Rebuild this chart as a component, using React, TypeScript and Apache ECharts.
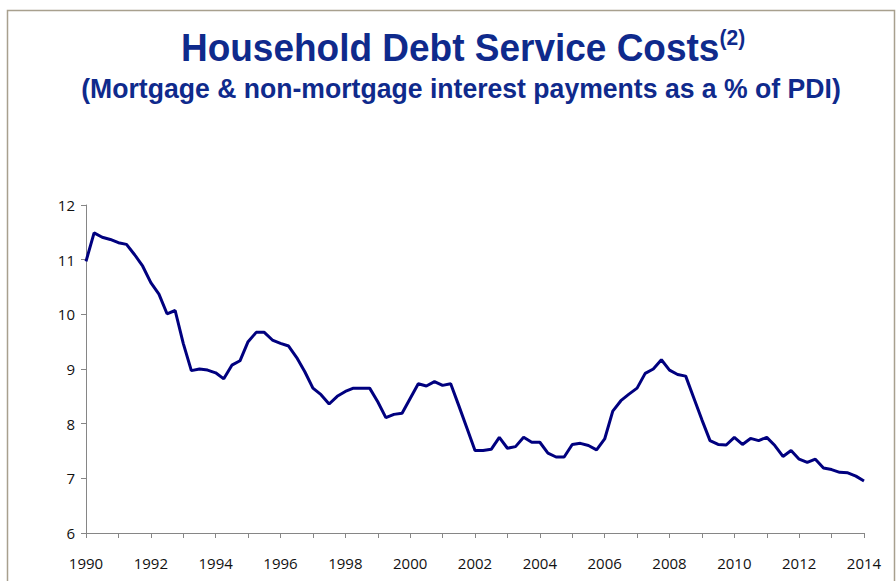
import React, { useEffect, useRef } from "react";
import * as echarts from "echarts";

const startYear = 1990;
const quarterValues: number[] = [
  10.97, 11.49, 11.41, 11.37, 11.31, 11.28, 11.09, 10.88, 10.58, 10.37,
  10.01, 10.07, 9.47, 8.97, 9.0, 8.98, 8.93, 8.82, 9.07, 9.15,
  9.5, 9.67, 9.67, 9.53, 9.47, 9.42, 9.21, 8.95, 8.65, 8.53,
  8.36, 8.5, 8.59, 8.65, 8.65, 8.65, 8.4, 8.11, 8.17, 8.19,
  8.46, 8.73, 8.69, 8.77, 8.7, 8.73, 8.33, 7.92, 7.51, 7.51,
  7.53, 7.75, 7.55, 7.58, 7.75, 7.66, 7.66, 7.46, 7.39, 7.39,
  7.62, 7.64, 7.6, 7.52, 7.72, 8.23, 8.42, 8.54, 8.65, 8.92,
  9.0, 9.17, 8.98, 8.9, 8.87, 8.47, 8.07, 7.69, 7.62, 7.61,
  7.75, 7.62, 7.73, 7.69, 7.75, 7.6, 7.4, 7.51, 7.35, 7.29,
  7.35, 7.19, 7.16, 7.11, 7.1, 7.04, 6.95,
];
const xLabelYears: number[] = [1990, 1992, 1994, 1996, 1998, 2000, 2002, 2004, 2006, 2008, 2010, 2012, 2014];
const titleText = "Household Debt Service Costs";
const titleNote = "(2)";
const subtitleText = "(Mortgage & non-mortgage interest payments as a % of PDI)";

export default function App() {
  const ref = useRef<HTMLDivElement>(null);
  useEffect(() => {
    if (!ref.current) return;
    const chart = echarts.init(ref.current, null, { renderer: "svg" });
    const seriesData = quarterValues.map((v, i) => [startYear + i / 4, v]);
    const navy = "#0f2a8c";
    chart.setOption({
      animation: false,
      backgroundColor: "#ffffff",
      graphic: [
        {
          type: "rect",
          shape: { x: 7.5, y: 10.5, width: 887, height: 620 },
          style: { fill: "none", stroke: "#a8a08e", lineWidth: 1.5 },
          silent: true,
        },
        {
          type: "text",
          x: 463,
          y: 47,
          scaleY: 1.06,
          style: {
            text: `{t|${titleText}}{s|${titleNote}}`,
            align: "center",
            verticalAlign: "middle",
            rich: {
              t: {
                fontFamily: "Liberation Sans, Arial, sans-serif",
                fontWeight: "bold",
                fontSize: 37,
                lineHeight: 40,
                fill: navy,
              },
              s: {
                fontFamily: "Liberation Sans, Arial, sans-serif",
                fontWeight: "bold",
                fontSize: 21,
                lineHeight: 22,
                verticalAlign: "top",
                fill: navy,
              },
            },
          },
        },
        {
          type: "text",
          x: 461,
          y: 88,
          scaleY: 1.05,
          style: {
            text: subtitleText,
            align: "center",
            verticalAlign: "middle",
            fontFamily: "Liberation Sans, Arial, sans-serif",
            fontWeight: "bold",
            fontSize: 26.6,
            fill: navy,
          },
        },
      ],
      grid: { left: 86, right: 32, top: 205, bottom: 48, containLabel: false },
      xAxis: {
        type: "value",
        min: 1990,
        max: 2014,
        interval: 1,
        splitLine: { show: false },
        axisLine: { lineStyle: { color: "#868686", width: 1 } },
        axisTick: { show: true, length: 5, lineStyle: { color: "#868686" } },
        axisLabel: {
          margin: 22,
          fontSize: 15,
          fontFamily: "Open Sans, sans-serif",
          color: "#111",
          formatter: (v: number) => (xLabelYears.indexOf(Math.round(v)) >= 0 ? String(Math.round(v)) : ""),
        },
      },
      yAxis: {
        type: "value",
        min: 6,
        max: 12,
        interval: 1,
        splitLine: { show: false },
        axisLine: { show: true, lineStyle: { color: "#868686", width: 1 } },
        axisTick: { show: true, length: 5, lineStyle: { color: "#868686" } },
        axisLabel: {
          margin: 11,
          fontSize: 15,
          fontFamily: "Open Sans, sans-serif",
          color: "#111",
        },
      },
      series: [
        {
          type: "line",
          data: seriesData,
          showSymbol: false,
          lineStyle: { color: "#00007f", width: 3 },
          itemStyle: { color: "#00007f" },
        },
      ],
    });
    return () => chart.dispose();
  }, []);
  return (
    <div
      ref={ref}
      style={{ position: "absolute", left: 0, top: 0, width: 896, height: 581 }}
    />
  );
}
